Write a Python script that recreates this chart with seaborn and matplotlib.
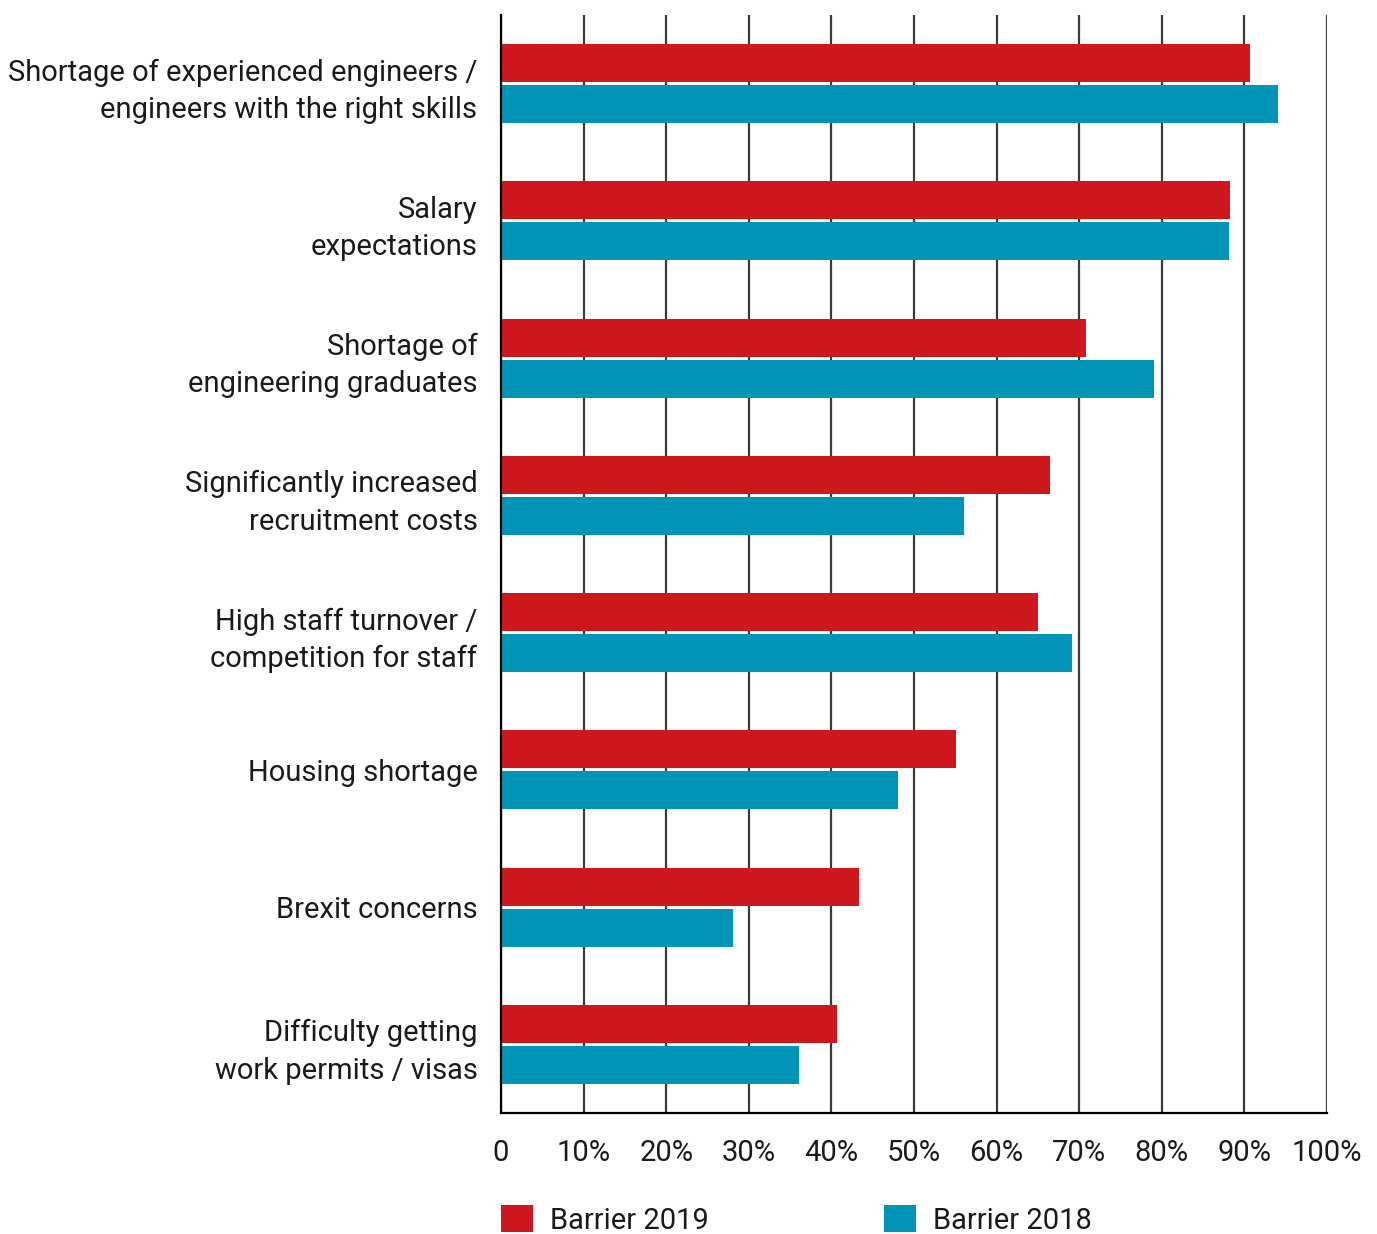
import matplotlib
matplotlib.use("Agg")
import matplotlib.pyplot as plt
import seaborn as sns
import pandas as pd

# Survey data: share of respondents naming each recruitment barrier
barriers = [
    "Shortage of experienced engineers /\nengineers with the right skills",
    "Salary\nexpectations",
    "Shortage of\nengineering graduates",
    "Significantly increased\nrecruitment costs",
    "High staff turnover /\ncompetition for staff",
    "Housing shortage",
    "Brexit concerns",
    "Difficulty getting\nwork permits / visas",
]
barrier_2019 = [90.7, 88.3, 70.8, 66.5, 65.0, 55.1, 43.3, 40.7]
barrier_2018 = [94.1, 88.1, 79.1, 56.1, 69.1, 48.1, 28.1, 36.1]
series_names = ["Barrier 2019", "Barrier 2018"]
x_ticks = [0, 10, 20, 30, 40, 50, 60, 70, 80, 90, 100]
x_tick_labels = ["0", "10%", "20%", "30%", "40%", "50%", "60%", "70%", "80%", "90%", "100%"]

RED = "#CE181E"
BLUE = "#0095B6"

df = pd.DataFrame({
    "barrier": barriers * 2,
    "share": barrier_2019 + barrier_2018,
    "series": [series_names[0]] * len(barriers) + [series_names[1]] * len(barriers),
})

sns.set_theme(style="white")
plt.rcParams["font.family"] = ["Roboto", "DejaVu Sans"]
FS = 21

fig = plt.figure(figsize=(13.77, 12.34), dpi=100)
ax = fig.add_axes([501 / 1377, 1 - 1113 / 1234, 826 / 1377, 1098 / 1234])

sns.barplot(
    data=df, y="barrier", x="share", hue="series", order=barriers,
    hue_order=series_names, palette=[RED, BLUE], orient="h",
    width=0.597, gap=0.073, saturation=1, ax=ax, linewidth=0,
)

ax.set_xlim(0, 100)
ax.set_ylim(len(barriers) - 0.5, -0.5)
ax.set_xticks(x_ticks)
ax.set_xticklabels(x_tick_labels, fontsize=FS, color="#1a1a1a")
ax.tick_params(axis="x", length=0, pad=19)
ax.tick_params(axis="y", length=0, pad=17, labelsize=FS, labelcolor="#1a1a1a")
for lbl in ax.get_yticklabels():
    lbl.set_linespacing(1.42)
ax.set_xlabel("")
ax.set_ylabel("")

ax.set_axisbelow(True)
ax.xaxis.grid(True, color="#3a3a3a", linewidth=1.6)
ax.yaxis.grid(False)
for side in ("top", "right"):
    ax.spines[side].set_visible(False)
for side in ("left", "bottom"):
    ax.spines[side].set_color("black")
    ax.spines[side].set_linewidth(1.6)

sns.move_legend(
    ax, loc="upper left", bbox_to_anchor=(0, -0.084), ncol=2, frameon=False,
    title=None, fontsize=FS, handlelength=1.1, handleheight=1.03,
    handletextpad=0.58, columnspacing=6.0, borderpad=0, borderaxespad=0,
)
for t in ax.get_legend().get_texts():
    t.set_color("#1a1a1a")

fig.savefig("out.png", dpi=100)
